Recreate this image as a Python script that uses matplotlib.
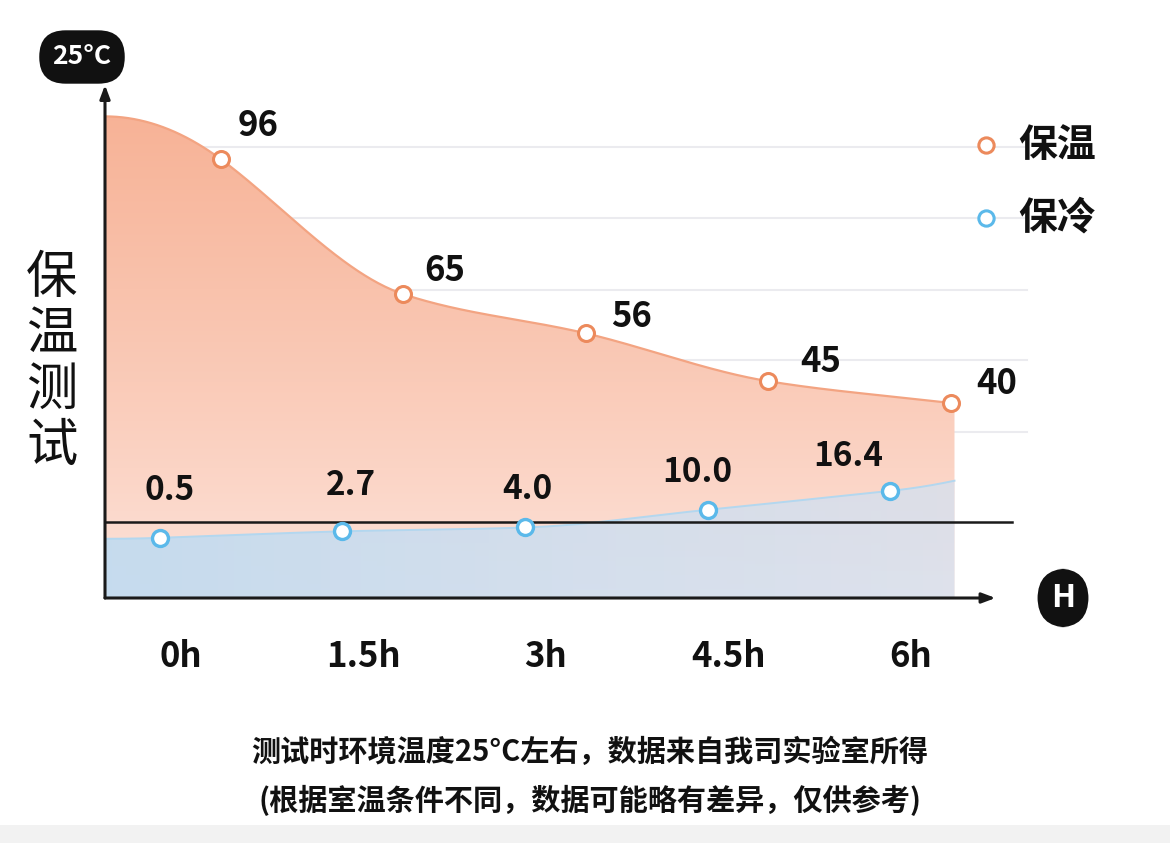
import numpy as np
import matplotlib
matplotlib.use("Agg")
import matplotlib.pyplot as plt
from matplotlib.patches import PathPatch, Rectangle
from matplotlib.colors import to_rgb

plt.rcParams['font.family'] = ['Noto Sans CJK SC', 'DejaVu Sans']

# data
hours = [0, 1.5, 3, 4.5, 6]
tick_labels = ['0h', '1.5h', '3h', '4.5h', '6h']
hot_vals = [96, 65, 56, 45, 40]        # 保温
cold_vals = [0.5, 2.7, 4.0, 10.0, 16.4]  # 保冷
hot_name = '保温'
cold_name = '保冷'
y_title = '保\n温\n测\n试'
unit_badge = '25°C'
x_badge = 'H'
note_lines = ['测试时环境温度25°C左右，数据来自我司实验室所得',
              '(根据室温条件不同，数据可能略有差异，仅供参考)']

HOT_LINE = '#f3a482'
HOT_EDGE = '#ec8a5c'
COLD_LINE = '#b3d7ef'
COLD_EDGE = '#5bb9ea'


def smooth(xk, yk, x0, x1, n=80):
    # monotone cubic hermite through the points, with gentle ends out to x0 / x1
    xk = np.asarray(xk, float)
    yk = np.asarray(yk, float)
    h = np.diff(xk)
    d = np.diff(yk) / h
    m = np.zeros_like(yk)
    m[0], m[-1] = d[0], d[-1]
    for i in range(1, len(xk) - 1):
        if d[i - 1] * d[i] > 0:
            w1 = 2 * h[i] + h[i - 1]
            w2 = h[i] + 2 * h[i - 1]
            m[i] = (w1 + w2) / (w1 / d[i - 1] + w2 / d[i])
    xs, ys = [], []
    # left: quadratic with flat start at x0
    if x0 < xk[0]:
        dd = xk[0] - x0
        t = np.linspace(x0, xk[0], n, endpoint=False)
        xs.append(t)
        ys.append(yk[0] + m[0] / (2 * dd) * ((t - x0) ** 2 - dd ** 2))
    for i in range(len(xk) - 1):
        t = np.linspace(0, 1, n, endpoint=False)
        h00 = 2 * t**3 - 3 * t**2 + 1
        h10 = t**3 - 2 * t**2 + t
        h01 = -2 * t**3 + 3 * t**2
        h11 = t**3 - t**2
        xs.append(xk[i] + t * h[i])
        ys.append(h00 * yk[i] + h10 * h[i] * m[i] + h01 * yk[i + 1] + h11 * h[i] * m[i + 1])
    xs.append([xk[-1]])
    ys.append([yk[-1]])
    if x1 > xk[-1]:
        t = np.linspace(xk[-1], x1, n)[1:]
        xs.append(t)
        ys.append(yk[-1] + m[-1] * (t - xk[-1]) * (1 + (t - xk[-1])))
    return np.concatenate(xs), np.concatenate(ys)


def gradient_area(a, x, ytop, ybot, rgba, z):
    poly = a.fill_between(x, ytop, ybot, facecolor='none', edgecolor='none')
    patch = PathPatch(poly.get_paths()[0], transform=a.transData,
                      facecolor='none', edgecolor='none')
    a.add_patch(patch)
    xl, yl = a.get_xlim(), a.get_ylim()
    im = a.imshow(rgba, extent=[xl[0], xl[1], yl[0], yl[1]], origin='lower',
                  aspect='auto', zorder=z, interpolation='bilinear')
    im.set_clip_path(patch)
    a.set_xlim(xl)
    a.set_ylim(yl)


fig = plt.figure(figsize=(11.7, 8.43), dpi=100)
ax = fig.add_axes([105 / 1170, 1 - 598 / 843, 895 / 1170, 513 / 843])
ax2 = ax.twinx()

xmin, xmax = -0.452, 6.904
ax.set_xlim(xmin, xmax)
ax.set_ylim(-4.8, 113.05)
ax2.set_ylim(-19.9, 154.0)
for a in (ax, ax2):
    a.axis('off')

hot_x = np.array(hours) + 0.5
cold_x = np.array(hours, float)
x_end = hot_x[-1] + 0.03

# faint grid lines
for gy in [147, 218, 290, 360, 432]:
    ax.plot([0, 1.03], [(598 - gy) / 513] * 2, transform=ax.transAxes,
            color='#ebebef', lw=1.5, zorder=0, clip_on=False)

# warm area, vertical gradient
hx, hy = smooth(hot_x, hot_vals, xmin, hot_x[-1])
hx = np.append(hx, x_end)
hy = np.append(hy, hy[-1])
top, bot = np.array(to_rgb('#f7b093')), np.array(to_rgb('#fde6de'))
g = np.linspace(0, 1, 256)[:, None] ** 0.8
hot_img = np.zeros((256, 2, 4))
hot_img[..., :3] = (bot + (top - bot) * g)[:, None, :]
hot_img[..., 3] = 1
gradient_area(ax, hx, hy, np.full_like(hy, -4.8), hot_img, 1)
ax.plot(hx[:-1], hy[:-1], color=HOT_LINE, lw=1.6, zorder=3)

# cool area, fading to the right
cx, cy = smooth(cold_x, cold_vals, xmin, x_end)
cold_img = np.zeros((2, 256, 4))
cold_img[..., :3] = np.linspace(to_rgb('#c4dbef'), to_rgb('#d4e2f3'), 256)[None, :, :]
cold_img[..., 3] = np.linspace(0.97, 0.72, 256)[None, :]
gradient_area(ax2, cx, cy, np.full_like(cy, -19.9), cold_img, 1)
ax2.plot(cx, cy, color=COLD_LINE, lw=1.4, zorder=3)

# 25°C reference line
ax2.plot([0, 1.013], [76 / 513] * 2, transform=ax2.transAxes, color='#1a1a1a',
         lw=1.8, zorder=4, clip_on=False)

# markers
ax.plot(hot_x, hot_vals, 'o', ms=11.5, mfc='white', mec=HOT_EDGE, mew=2.2, zorder=5)
ax2.plot(cold_x, cold_vals, 'o', ms=11.5, mfc='white', mec=COLD_EDGE, mew=2.4, zorder=5)

# value labels
hot_off = [(27, 24), (30, 17), (33, 12), (38, 14), (33, 14)]
for x, v, off in zip(hot_x, hot_vals, hot_off):
    ax.annotate(f'{v}', (x, v), xytext=off, textcoords='offset points',
                ha='center', va='center', fontsize=25, fontweight='bold',
                color='#111111', zorder=6)
cold_off = [(7, 34), (6, 33), (2, 27), (-7, 27), (-30, 25)]
for x, v, off in zip(cold_x, cold_vals, cold_off):
    ax2.annotate(f'{v:.1f}', (x, v), xytext=off, textcoords='offset points',
                 ha='center', va='center', fontsize=24, fontweight='bold',
                 color='#111111', zorder=6)

# axes arrows
arrow = dict(arrowstyle='-|>,head_length=0.8,head_width=0.3', color='#1a1a1a',
             lw=2.2, shrinkA=0, shrinkB=0)
ax2.annotate('', xy=(0, 1.0), xytext=(0, 0), xycoords='axes fraction',
             arrowprops=arrow, zorder=7, annotation_clip=False)
ax2.annotate('', xy=(0.995, 0), xytext=(0, 0), xycoords='axes fraction',
             arrowprops=arrow, zorder=7, annotation_clip=False)

# x tick labels
for x, lab in zip(hours, tick_labels):
    ax.text(x + 0.17, -0.115, lab, transform=ax.get_xaxis_transform(),
            ha='center', va='center', fontsize=25, fontweight='bold', color='#111111')

# legend
for yy, col, name in [(145, HOT_EDGE, hot_name), (218, COLD_EDGE, cold_name)]:
    ax2.plot([(986 - 105) / 895], [(598 - yy) / 513], 'o', ms=11, mfc='white',
             mec=col, mew=2.2, transform=ax2.transAxes, clip_on=False, zorder=6)
    ax2.text((1018 - 105) / 895, (598 - yy) / 513, name, transform=ax2.transAxes,
             ha='left', va='center', fontsize=28, fontweight='bold', color='#111111')

# badges
fig.text(82 / 1170, 1 - 57 / 843, unit_badge, ha='center', va='center', fontsize=19,
         fontweight='bold', color='white',
         bbox=dict(boxstyle='round,pad=0.5,rounding_size=1.0', fc='#111111', ec='none'))
fig.text(1063 / 1170, 1 - 598 / 843, x_badge, ha='center', va='center', fontsize=23,
         fontweight='bold', color='white',
         bbox=dict(boxstyle='round,pad=0.42,rounding_size=0.95', fc='#111111', ec='none'))

# vertical title
fig.text(52 / 1170, 1 - 362 / 843, y_title, ha='center', va='center', fontsize=37,
         linespacing=1.06, fontweight='medium', color='#111111')

# footnote
fig.text(0.504, 1 - 752 / 843, note_lines[0], ha='center', va='center', fontsize=21,
         fontweight='bold', color='#111111')
fig.text(0.504, 1 - 800 / 843, note_lines[1], ha='center', va='center', fontsize=21,
         fontweight='bold', color='#111111')

fig.patches.append(Rectangle((0, 0), 1, 18 / 843, transform=fig.transFigure,
                             fc='#f2f2f2', ec='none', zorder=0))

fig.savefig('out.png', dpi=100, facecolor='white')
